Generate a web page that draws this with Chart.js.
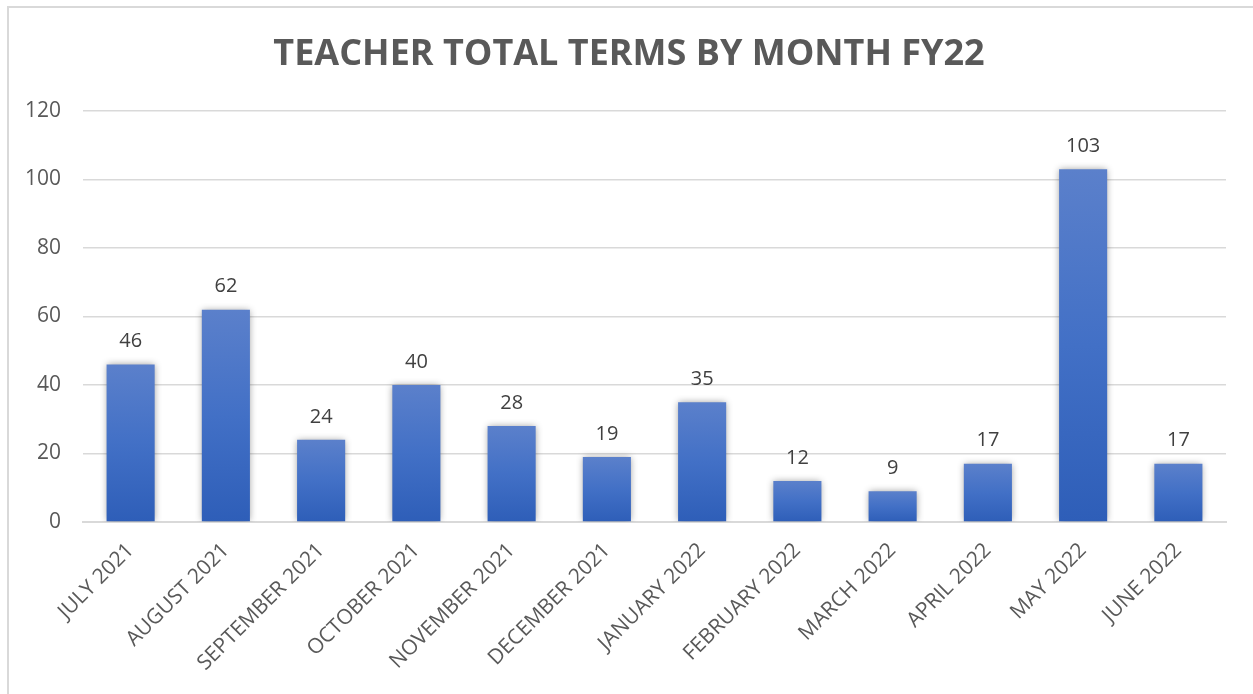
<!DOCTYPE html>
<html>
<head>
<meta charset="utf-8">
<script src="https://cdn.jsdelivr.net/npm/chart.js@4"></script>
<style>
  html, body { margin: 0; padding: 0; background: #fff; overflow: hidden; }
  #frame {
    position: absolute; left: 7px; top: 6px; width: 1300px; height: 750px;
    border-left: 2px solid #d9d9d9; border-top: 2px solid #d9d9d9;
  }
  #wrap { position: absolute; left: 0; top: 0; width: 1253px; height: 694px; }
</style>
</head>
<body>
<div id="frame"></div>
<div id="wrap"><canvas id="termsChart"></canvas></div>
<script>
const chartTitle = 'TEACHER TOTAL TERMS BY MONTH FY22';
const months = [
    'JULY 2021', 'AUGUST 2021', 'SEPTEMBER 2021', 'OCTOBER 2021',
    'NOVEMBER 2021', 'DECEMBER 2021', 'JANUARY 2022', 'FEBRUARY 2022',
    'MARCH 2022', 'APRIL 2022', 'MAY 2022', 'JUNE 2022'
];
const terms = [46, 62, 24, 40, 28, 19, 35, 12, 9, 17, 103, 17];
const yTicks = [0, 20, 40, 60, 80, 100, 120];

const textGray = '#595959';
const fontName = '"Open Sans", "Liberation Sans", sans-serif';

// vertical gradient per bar, light at top, dark at base
function barGradient(context) {
    const chart = context.chart;
    const y = chart.scales.y;
    if (!y || !chart.chartArea || context.raw === undefined) return '#4472c4';
    const top = y.getPixelForValue(context.raw);
    const base = y.getPixelForValue(0);
    const g = chart.ctx.createLinearGradient(0, top, 0, base);
    g.addColorStop(0, '#5b80cb');
    g.addColorStop(0.5, '#4270c6');
    g.addColorStop(1, '#2e5eb8');
    return g;
}

// soft shadow behind bars
const barShadow = {
    id: 'barShadow',
    beforeDatasetsDraw(chart) {
        const ctx = chart.ctx;
        ctx.save();
        ctx.shadowColor = 'rgba(0, 0, 0, 0.4)';
        ctx.shadowBlur = 7;
        ctx.shadowOffsetX = 0;
        ctx.shadowOffsetY = 0;
    },
    afterDatasetsDraw(chart) {
        chart.ctx.restore();
    }
};

// value labels above each bar
const valueLabels = {
    id: 'valueLabels',
    afterDatasetsDraw(chart) {
        const ctx = chart.ctx;
        const meta = chart.getDatasetMeta(0);
        ctx.save();
        ctx.font = '20px ' + fontName;
        ctx.fillStyle = '#404040';
        ctx.textAlign = 'center';
        ctx.textBaseline = 'bottom';
        meta.data.forEach((bar, i) => {
            ctx.fillText(String(terms[i]), bar.x, bar.y - 13);
        });
        ctx.restore();
    }
};

// title sits a little right of the canvas centre, like the original
const titleText = {
    id: 'titleText',
    afterDraw(chart) {
        const ctx = chart.ctx;
        ctx.save();
        ctx.font = 'bold 36px ' + fontName;
        ctx.fillStyle = textGray;
        ctx.textAlign = 'center';
        ctx.textBaseline = 'alphabetic';
        ctx.fillText(chartTitle, 629, 65);
        ctx.restore();
    }
};

const ctx = document.getElementById('termsChart').getContext('2d');
new Chart(ctx, {
    type: 'bar',
    data: {
        labels: months,
        datasets: [{
            data: terms,
            backgroundColor: barGradient,
            borderWidth: 0,
            barPercentage: 0.505,
            categoryPercentage: 1
        }]
    },
    options: {
        responsive: true,
        maintainAspectRatio: false,
        animation: false,
        layout: { padding: { left: 0, right: 27, top: 111, bottom: 0 } },
        plugins: {
            legend: { display: false },
            tooltip: { enabled: false },
            title: { display: false }
        },
        scales: {
            x: {
                grid: { display: false, drawTicks: false },
                border: { display: true, color: '#d9d9d9', width: 2 },
                ticks: {
                    color: textGray,
                    font: { family: fontName, size: 21 },
                    maxRotation: 45,
                    minRotation: 45,
                    padding: 16
                },
                afterFit(scale) { scale.height = 172; }
            },
            y: {
                min: 0,
                max: 120,
                afterBuildTicks(scale) {
                    scale.ticks = yTicks.map(v => ({ value: v }));
                },
                grid: { color: '#d9d9d9', lineWidth: 1.5, drawTicks: false },
                border: { display: false },
                ticks: {
                    color: textGray,
                    font: { family: fontName, size: 21 },
                    padding: 22
                },
                afterFit(scale) { scale.width = 83; }
            }
        }
    },
    plugins: [barShadow, valueLabels, titleText]
});
</script>
</body>
</html>
